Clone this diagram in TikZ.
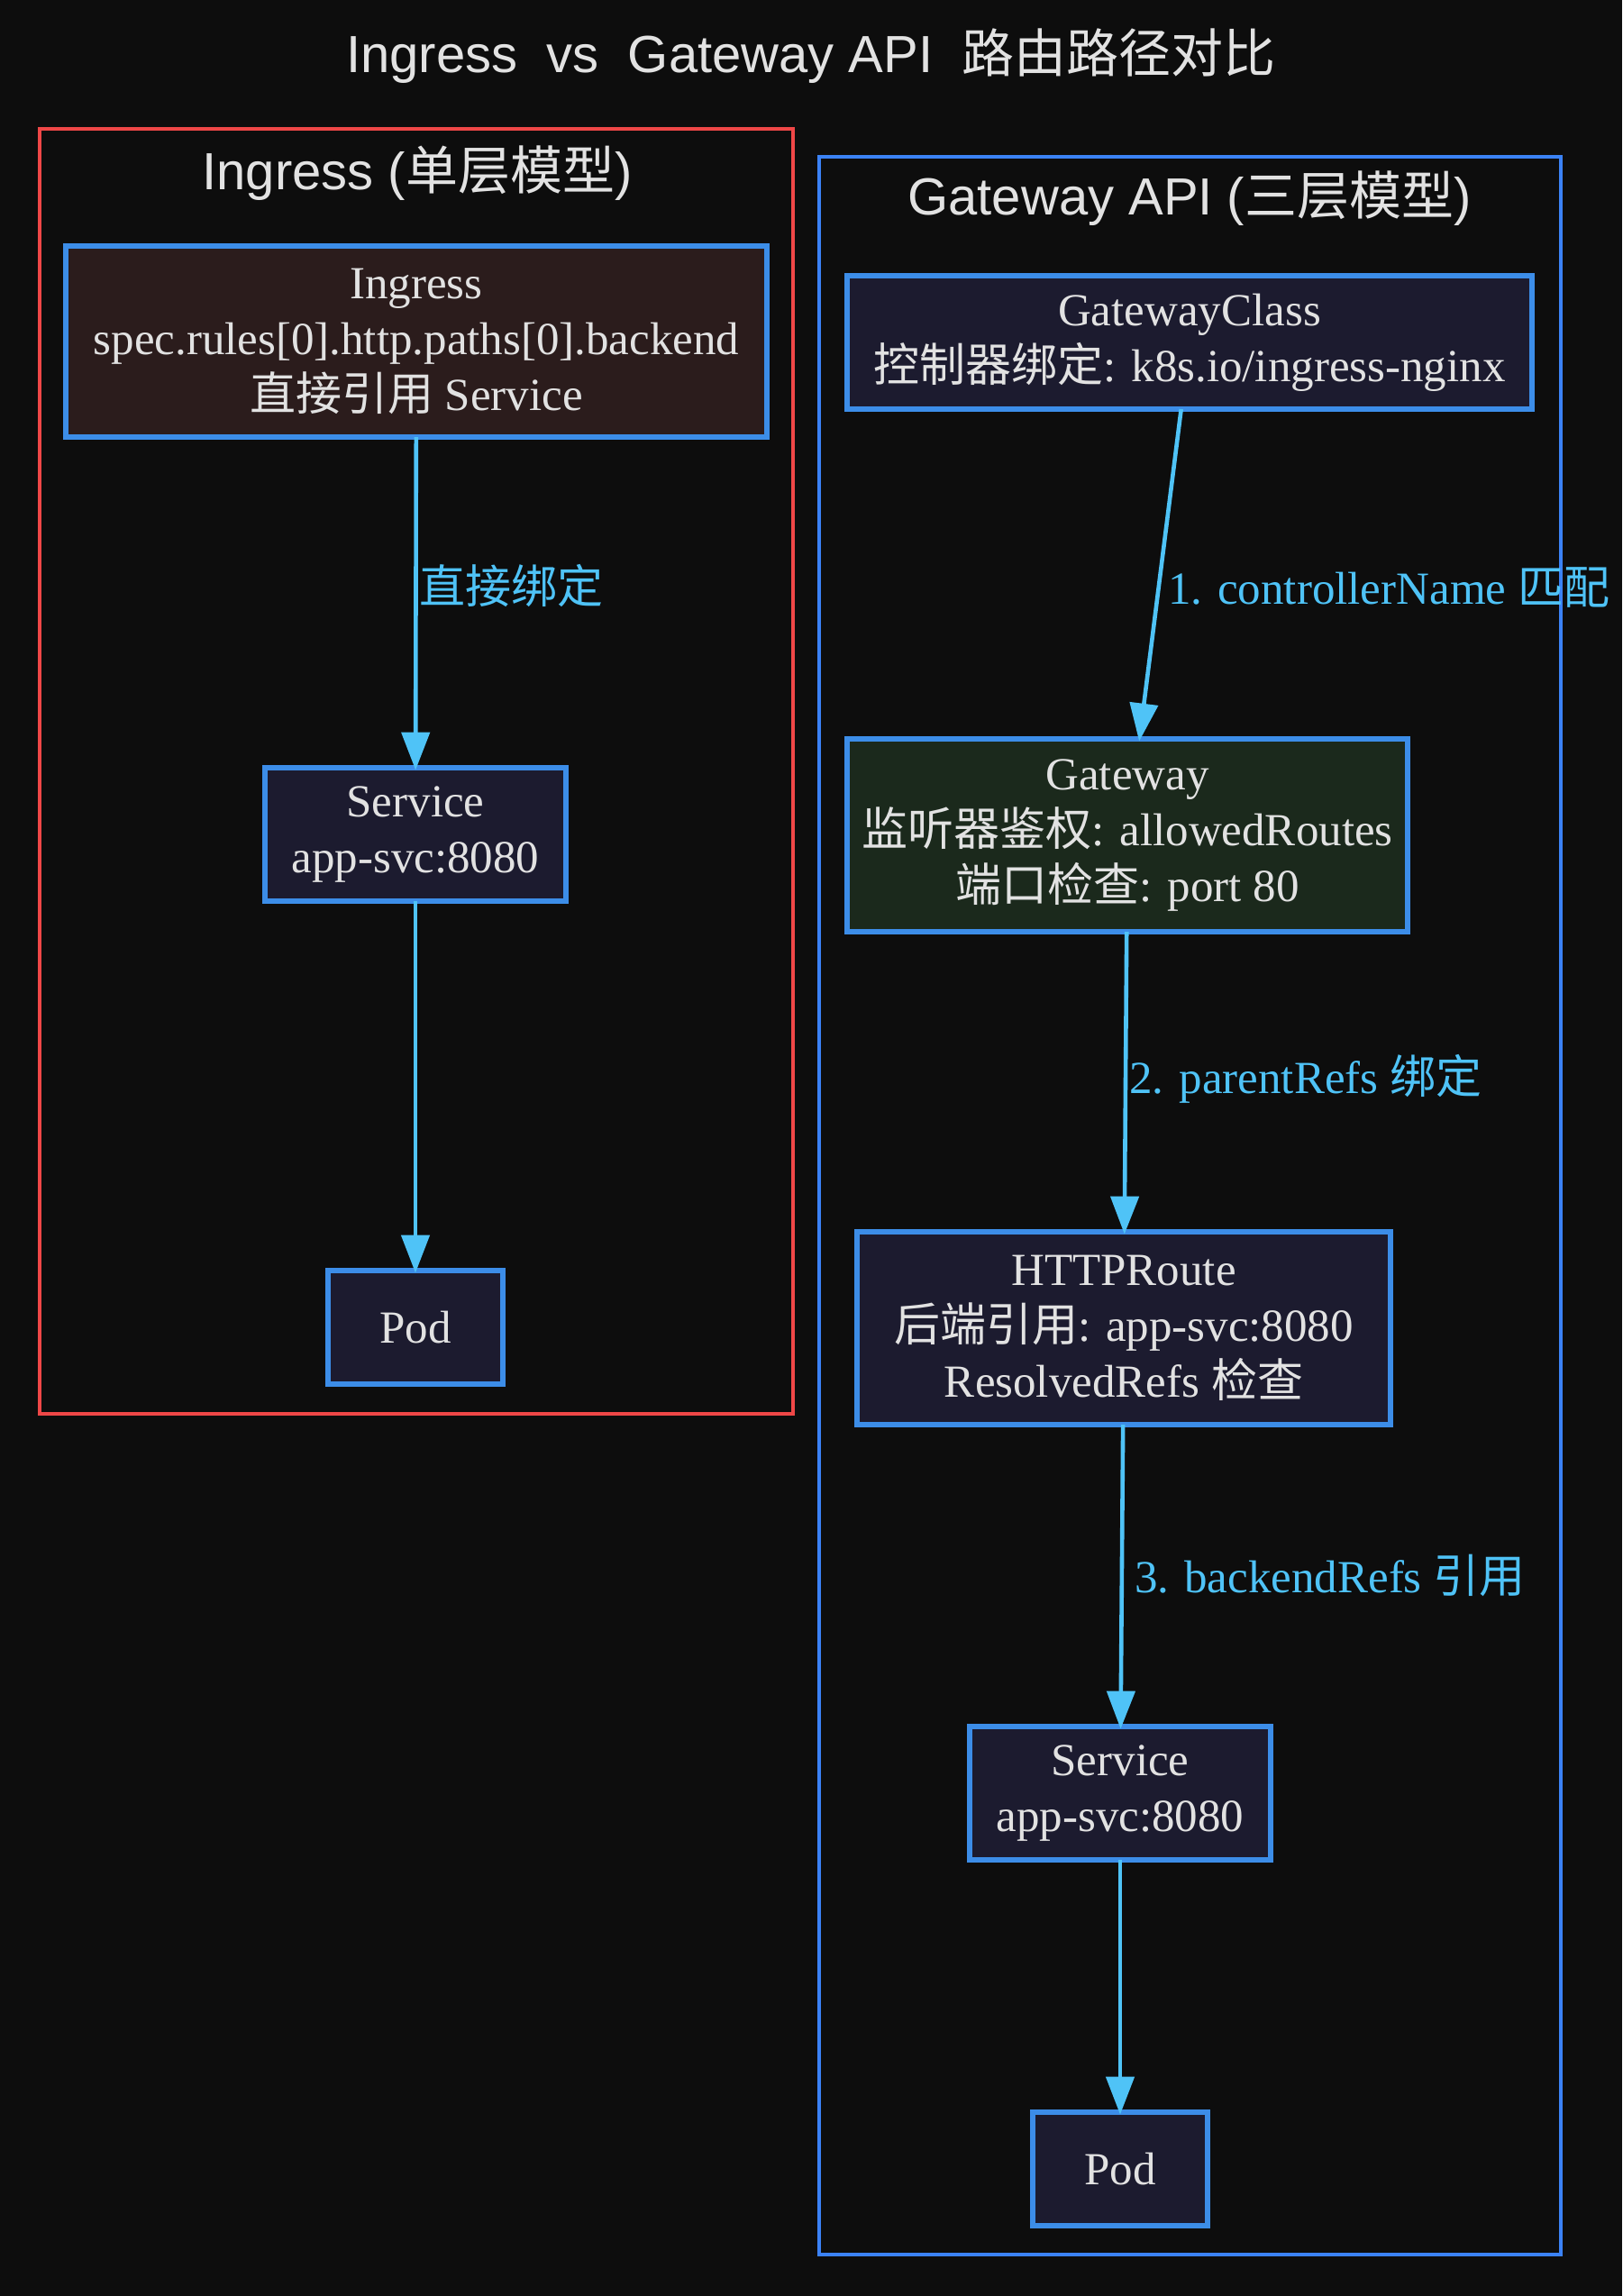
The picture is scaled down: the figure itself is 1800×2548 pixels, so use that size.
\documentclass[tikz,border=0pt]{standalone}
\usepackage{fontspec}
\setmainfont{Liberation Serif}
\setsansfont{Liberation Sans}
\newfontfamily\cjk{Noto Sans CJK SC}
\usetikzlibrary{arrows.meta,positioning}
\definecolor{canvas}{HTML}{0D0D0D}
\definecolor{inkgray}{HTML}{E2E2E2}
\definecolor{framered}{HTML}{EF4747}
\definecolor{frameblue}{HTML}{3B82F6}
\definecolor{boxblue}{HTML}{3C8DE8}
\definecolor{flowcyan}{HTML}{4FC3F7}
\definecolor{fillrose}{HTML}{2B1C1C}
\definecolor{fillnavy}{HTML}{1C1B2F}
\definecolor{fillmoss}{HTML}{1B291C}
\tikzset{
flow/.style={-{Triangle[length=21pt,width=15.5pt]},color=flowcyan,
    line width=2.3pt,shorten >=-1.3pt},
res/.style={rectangle,draw=boxblue,line width=2.7pt,fill=fillnavy,
    text=inkgray,align=center,inner sep=2pt,outer sep=0pt,
    font=\fontsize{25.5}{31}\selectfont},
lbl/.style={anchor=west,text=flowcyan,inner sep=1pt,
    font=\fontsize{25.5}{31}\selectfont},
cluster/.style={line width=1.9pt},
heading/.style={text=inkgray,font=\sffamily\fontsize{29}{35}\selectfont},
}

\begin{document}
\begin{tikzpicture}[x=0.5pt,y=-0.5pt]

    \useasboundingbox[fill=canvas] (0,0) rectangle (1800,2548);
    \node[heading] (title) at (900,62)
        {Ingress\ \ vs\ \ Gateway API\ \ {\cjk 路由路径对比}};

    % single-layer model
    \draw[cluster,framered] (44,143) rectangle (880,1569);
    \node[heading] (left) at (463,192) {Ingress ({\cjk 单层模型})};
    \node[res,fill=fillrose,minimum width=389pt,minimum height=106pt]
        (ingress) at (462,379)
        {Ingress\\spec.rules[0].http.paths[0].backend\\{\cjk 直接引用} Service};
    \node[res,minimum width=167pt,minimum height=74pt] (svcA) at (461,926)
        {Service\\app-svc:8080};
    \node[res,minimum width=97pt,minimum height=63pt] (podA) at (461,1473)
        {Pod};

    % three-layer model
    \draw[cluster,frameblue] (909,174) rectangle (1732,2502);
    \node[heading] (right) at (1320,220) {Gateway API ({\cjk 三层模型})};
    \node[res,minimum width=380pt,minimum height=74pt] (gwclass) at (1320,380)
        {GatewayClass\\{\cjk 控制器绑定}: k8s.io/ingress-nginx};
    \node[res,fill=fillmoss,minimum width=311pt,minimum height=107pt]
        (gateway) at (1251,927)
        {Gateway\\{\cjk 监听器鉴权}: allowedRoutes\\{\cjk 端口检查}: port 80};
    \node[res,minimum width=296pt,minimum height=107pt] (httproute) at (1247,1474)
        {HTTPRoute\\{\cjk 后端引用}: app-svc:8080\\ResolvedRefs {\cjk 检查}};
    \node[res,minimum width=167pt,minimum height=74pt] (svcB) at (1243,1990)
        {Service\\app-svc:8080};
    \node[res,minimum width=97pt,minimum height=63pt] (podB) at (1243,2407)
        {Pod};

    \path[flow]
        (ingress) edge node[lbl,pos=0.45] (bindA) {\cjk 直接绑定} (svcA)
        (svcA) edge (podA)
        (gwclass) edge node[lbl,pos=0.54,xshift=3pt] (step1)
            {1. controllerName {\cjk 匹配}} (gateway)
        (gateway) edge node[lbl,pos=0.49] (step2)
            {2. parentRefs {\cjk 绑定}} (httproute)
        (httproute) edge node[lbl,pos=0.5,xshift=5pt] (step3)
            {3. backendRefs {\cjk 引用}} (svcB)
        (svcB) edge (podB)
    ;
\end{tikzpicture}
\end{document}
